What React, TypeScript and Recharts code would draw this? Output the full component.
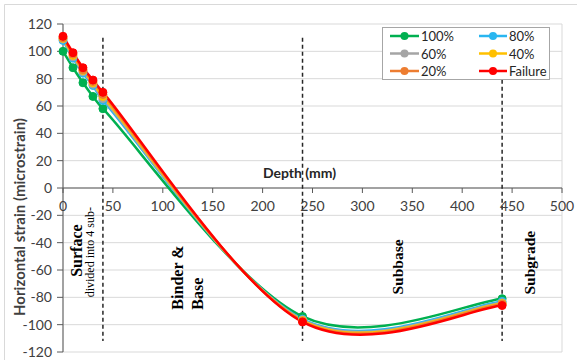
import React from "react";
import {
  LineChart,
  Line,
  XAxis,
  YAxis,
  CartesianGrid,
  ReferenceLine,
  ReferenceDot,
} from "recharts";

const DEPTH = [0, 10, 20, 30, 40, 240, 440];
const S100 = [100, 88, 77, 67, 58, -94, -81];
const S80 = [108, 95, 84, 75, 64, -96, -83];
const S60 = [109, 96, 85, 76, 65.5, -96.5, -84];
const S40 = [109.5, 97, 86, 77, 67, -97, -84.5];
const S20 = [110, 98, 86.5, 78, 68.5, -97.5, -85];
const SFAIL = [111, 99, 88, 79, 70, -98, -86];

const SERIES = [
  { key: "s100", name: "100%", values: S100, color: "#00B050" },
  { key: "s80", name: "80%", values: S80, color: "#29B6F0" },
  { key: "s60", name: "60%", values: S60, color: "#A5A5A5" },
  { key: "s40", name: "40%", values: S40, color: "#FFC000" },
  { key: "s20", name: "20%", values: S20, color: "#ED7D31" },
  { key: "sfail", name: "Failure", values: SFAIL, color: "#FF0000" },
];

const X_TICKS = [0, 50, 100, 150, 200, 250, 300, 350, 400, 450, 500];
const Y_TICKS = [-120, -100, -80, -60, -40, -20, 0, 20, 40, 60, 80, 100, 120];
const LAYER_BOUNDS = [40, 240, 440];

const ANNOTATIONS = [
  { text: "Surface", x: 14, y: -65, size: 16, bold: true },
  { text: "divided into 4 sub-", x: 27, y: -80, size: 12, bold: false },
  { text: "Binder &", x: 115, y: -89, size: 16, bold: true },
  { text: "Base", x: 135, y: -89, size: 16, bold: true },
  { text: "Subbase", x: 335, y: -78, size: 15.5, bold: true },
  { text: "Subgrade", x: 467, y: -78, size: 15.5, bold: true },
];

const data = DEPTH.map((depth, i) => {
  const row: Record<string, number> = { depth };
  SERIES.forEach((s) => (row[s.key] = s.values[i]));
  return row;
});

const W = 577;
const H = 360;
const SANS = "Lato, 'Liberation Sans', sans-serif";
const SERIF = "'Liberation Serif', 'DejaVu Serif', serif";
const AXIS = "#595959";

// excel-style smoothed line (bezier through the points, handles clamped on short segments)
function excelSmooth(context: any) {
  let pts: number[][] = [];
  const clamp = (v: number[], max: number) => {
    const len = Math.hypot(v[0], v[1]);
    if (len <= max || len === 0) return v;
    return [(v[0] * max) / len, (v[1] * max) / len];
  };
  return {
    areaStart() {},
    areaEnd() {},
    lineStart() {
      pts = [];
    },
    point(x: number, y: number) {
      pts.push([+x, +y]);
    },
    lineEnd() {
      const n = pts.length;
      if (!n) return;
      context.moveTo(pts[0][0], pts[0][1]);
      for (let i = 0; i < n - 1; i++) {
        const p0 = pts[Math.max(i - 1, 0)];
        const p1 = pts[i];
        const p2 = pts[i + 1];
        const p3 = pts[Math.min(i + 2, n - 1)];
        const seg = Math.hypot(p2[0] - p1[0], p2[1] - p1[1]);
        const h1 = clamp([(p2[0] - p0[0]) / 6, (p2[1] - p0[1]) / 6], seg / 2);
        const h2 = clamp([(p3[0] - p1[0]) / 6, (p3[1] - p1[1]) / 6], seg / 2);
        context.bezierCurveTo(
          p1[0] + h1[0],
          p1[1] + h1[1],
          p2[0] - h2[0],
          p2[1] - h2[1],
          p2[0],
          p2[1]
        );
      }
    },
  };
}

const LEGEND_ROWS = [36, 53.5, 71];
const LEGEND_COLS = [
  { x1: 390, x2: 419, tx: 421 },
  { x1: 479, x2: 507, tx: 509 },
];

export default function App() {
  return (
    <div style={{ position: "absolute", left: 0, top: 0, width: W, height: H, background: "#fff" }}>
      <LineChart width={W} height={H} data={data} margin={{ top: 24, right: 15, bottom: 8, left: 8 }}>
        <CartesianGrid stroke="#d9d9d9" />
        <XAxis
          type="number"
          dataKey="depth"
          domain={[0, 500]}
          ticks={X_TICKS}
          tick={false}
          tickLine={false}
          axisLine={false}
          height={0}
        />
        <YAxis
          type="number"
          domain={[-120, 120]}
          ticks={Y_TICKS}
          interval={0}
          width={55}
          tickSize={6}
          tickMargin={5}
          tick={{ fontSize: 14, fill: "#404040", fontFamily: SANS }}
          axisLine={{ stroke: AXIS }}
          tickLine={{ stroke: AXIS }}
        />
        <ReferenceLine y={0} stroke={AXIS} />
        {X_TICKS.map((t) => (
          <ReferenceDot
            key={"xt" + t}
            x={t}
            y={0}
            r={0}
            shape={(p: any) => (
              <g>
                <line x1={p.cx} x2={p.cx} y1={p.cy} y2={p.cy + 5} stroke={AXIS} />
                <text
                  x={p.cx}
                  y={p.cy + 17}
                  textAnchor="middle"
                  dominantBaseline="central"
                  fontSize={14}
                  fill="#404040"
                  fontFamily={SANS}
                >
                  {t}
                </text>
              </g>
            )}
          />
        ))}
        <ReferenceDot
          x={237}
          y={11}
          r={0}
          shape={(p: any) => (
            <text
              x={p.cx}
              y={p.cy}
              textAnchor="middle"
              dominantBaseline="central"
              fontSize={14}
              fontWeight="bold"
              fill="#262626"
              fontFamily={SANS}
            >
              Depth (mm)
            </text>
          )}
        />
        {ANNOTATIONS.map((a) => (
          <ReferenceDot
            key={a.text}
            x={a.x}
            y={a.y}
            r={0}
            shape={(p: any) => (
              <text
                x={p.cx}
                y={p.cy}
                transform={`rotate(-90 ${p.cx} ${p.cy})`}
                textAnchor="start"
                dominantBaseline="central"
                fontSize={a.size}
                fontWeight={a.bold ? "bold" : "normal"}
                fill="#000"
                fontFamily={SERIF}
              >
                {a.text}
              </text>
            )}
          />
        ))}
        {LAYER_BOUNDS.map((x) => (
          <ReferenceLine
            key={"lb" + x}
            segment={[
              { x, y: 110 },
              { x, y: -112 },
            ]}
            stroke="#262626"
            strokeWidth={1.5}
            strokeDasharray="4 3"
          />
        ))}
        {SERIES.map((s) => (
          <Line
            key={s.key}
            dataKey={s.key}
            name={s.name}
            type={excelSmooth as any}
            stroke={s.color}
            strokeWidth={2.5}
            dot={{ r: 4, fill: s.color, stroke: s.color, strokeWidth: 1 }}
            activeDot={false}
            isAnimationActive={false}
          />
        ))}
      </LineChart>
      <svg
        width={W}
        height={H}
        style={{ position: "absolute", left: 0, top: 0, pointerEvents: "none" }}
      >
        <path d="M4.5 365 V4.5 H580" fill="none" stroke="#d9d9d9" />
        <text
          x={19}
          y={217}
          transform="rotate(-90 19 217)"
          textAnchor="middle"
          dominantBaseline="central"
          fontSize={15}
          fontWeight="bold"
          fill="#404040"
          fontFamily={SANS}
        >
          Horizontal strain (microstrain)
        </text>
        <rect x={382.5} y={27.5} width={167} height={52} fill="#fff" stroke="#a6a6a6" />
        {SERIES.map((s, i) => {
          const col = LEGEND_COLS[i % 2];
          const y = LEGEND_ROWS[Math.floor(i / 2)];
          return (
            <g key={"lg" + s.key}>
              <line x1={col.x1} x2={col.x2} y1={y} y2={y} stroke={s.color} strokeWidth={2.5} />
              <circle cx={(col.x1 + col.x2) / 2} cy={y} r={4} fill={s.color} />
              <text
                x={col.tx}
                y={y}
                dominantBaseline="central"
                fontSize={13}
                fill="#262626"
                fontFamily={SANS}
              >
                {s.name}
              </text>
            </g>
          );
        })}
      </svg>
    </div>
  );
}
